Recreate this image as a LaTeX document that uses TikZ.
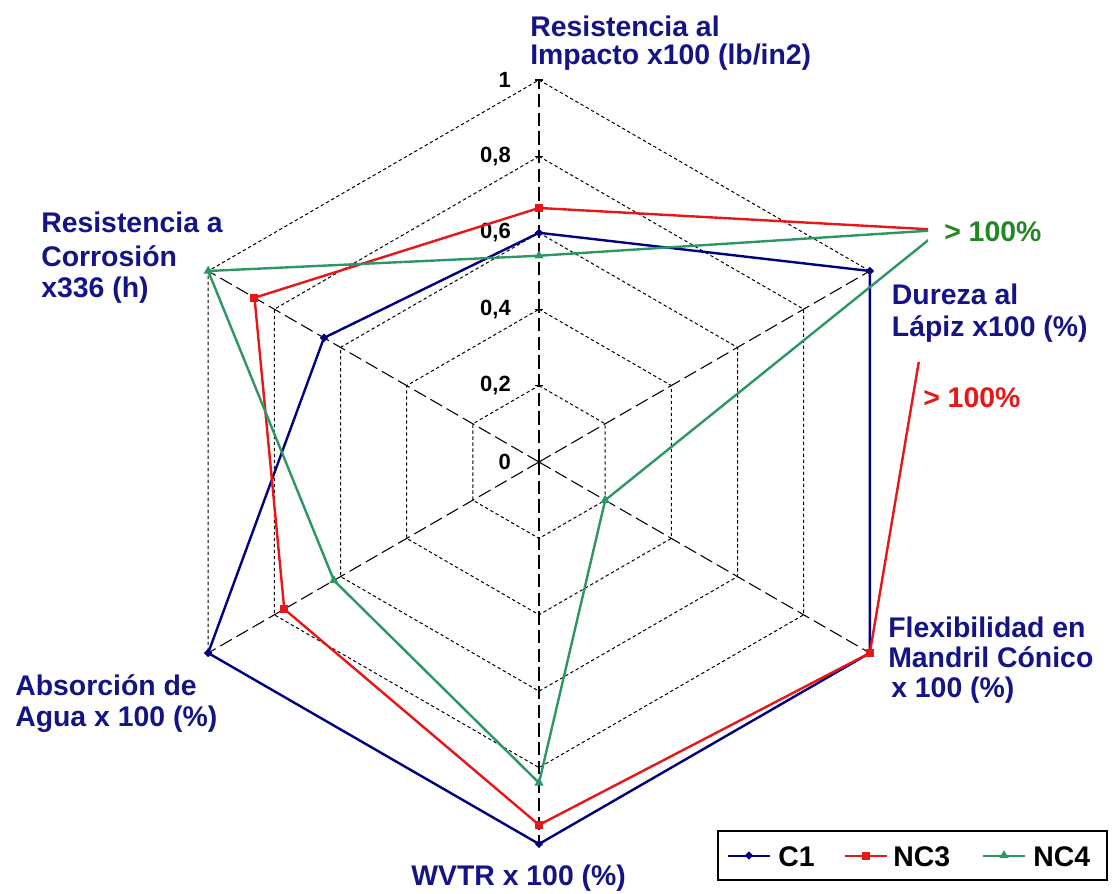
\documentclass[tikz,border=0pt]{standalone}
\usepackage{fontspec}
\setmainfont{Liberation Sans}
\usetikzlibrary{shapes.geometric}
\definecolor{navy}{RGB}{0,0,128}
\definecolor{labblue}{RGB}{20,20,135}
\definecolor{nred}{RGB}{232,22,22}
\definecolor{ngreen}{RGB}{46,150,100}
\definecolor{lgreen}{RGB}{35,135,35}
\begin{document}
\begin{tikzpicture}[x=0.75pt,y=0.75pt,
  grid/.style={black, line width=0.75pt, dash pattern=on 2.5pt off 2pt},
  axisline/.style={black, line width=0.8pt, dash pattern=on 10pt off 4pt},
  tickmark/.style={black, line width=0.8pt},
  lbl/.style={font=\fontsize{21.3}{24}\selectfont\bfseries, text=labblue, inner sep=0pt, anchor=base west},
  val/.style={font=\fontsize{16.5}{20}\selectfont\bfseries, text=black, inner sep=0pt, anchor=east},
  serC1/.style={navy, line width=1.8pt, line join=round},
  serNC3/.style={nred, line width=1.8pt, line join=round},
  serNC4/.style={ngreen, line width=1.8pt, line join=round},
  mkC1/.style={diamond, fill=navy, inner sep=0pt, minimum size=6.5pt},
  mkNC3/.style={rectangle, fill=nred, inner sep=0pt, minimum size=6pt},
  mkNC4/.style={regular polygon, regular polygon sides=3, fill=ngreen, inner sep=0pt, minimum size=8pt},
  legtext/.style={font=\fontsize{21.3}{24}\selectfont\bfseries, text=black, inner sep=0pt, anchor=base west},
  legbox/.style={draw=black, line width=1pt, fill=white, inner sep=0pt}
]
\useasboundingbox (0,0) rectangle (1119,893);
\coordinate (C) at (539,431);
% axis end points
\foreach \a [count=\i from 0] in {90,30,-30,-90,-150,150}
  \coordinate (A\i) at ([shift={(\a:382)}]C);
% grid hexagons
\foreach \v in {0.2,0.4,0.6,0.8,1.0}
  \draw[grid] ([shift={(90:{382*\v})}]C) -- ([shift={(30:{382*\v})}]C)
     -- ([shift={(-30:{382*\v})}]C) -- ([shift={(-90:{382*\v})}]C)
     -- ([shift={(-150:{382*\v})}]C) -- ([shift={(150:{382*\v})}]C) -- cycle;
% radial axes
\foreach \i in {0,...,5}
  \draw[axisline] (C) -- (A\i);
% ticks
\foreach \v in {0.2,0.4,0.6,0.8,1.0}
  \draw[tickmark] ([shift={(-4,{382*\v})}]C) -- ([shift={(4,{382*\v})}]C);
% value labels
\node[val] (v0) at (511,431) {0};
\node[val] (v1) at (511,{431+382*0.2}) {0,2};
\node[val] (v2) at (511,{431+382*0.4}) {0,4};
\node[val] (v3) at (511,{431+382*0.6}) {0,6};
\node[val] (v4) at (511,{431+382*0.8}) {0,8};
\node[val] (v5) at (511,{431+382}) {1};
% data points
\foreach \a/\v [count=\i from 0] in {90/0.6,30/1.0,-30/1.0,-90/1.0,-150/1.0,150/0.65}
  \coordinate (p\i) at ([shift={(\a:{382*\v})}]C);
\foreach \a/\v [count=\i from 0] in {90/0.665,30/1.215,-30/1.0,-90/0.95,-150/0.77,150/0.86}
  \coordinate (q\i) at ([shift={(\a:{382*\v})}]C);
\foreach \a/\v [count=\i from 0] in {90/0.54,30/1.215,-30/0.2,-90/0.84,-150/0.62,150/1.0}
  \coordinate (r\i) at ([shift={(\a:{382*\v})}]C);
\begin{scope}
  \clip (0,0) rectangle (928,893);
  \draw[serC1] (p0) -- (p1) -- (p2) -- (p3) -- (p4) -- (p5) -- cycle;
  \foreach \i in {0,...,5} \node[mkC1] at (p\i) {};
  \draw[serNC3] (q0) -- (q1) -- (q2) -- (q3) -- (q4) -- (q5) -- cycle;
  \foreach \i in {0,...,5} \node[mkNC3] at (q\i) {};
  \draw[serNC4] (r0) -- (r1) -- (r2) -- (r3) -- (r4) -- (r5) -- cycle;
  \foreach \i in {0,...,5} \node[mkNC4] at (r\i) {};
\end{scope}
% axis labels
\node[lbl] (imp1) at (530,856) {Resistencia al};
\node[lbl] (imp2) at (530,828) {Impacto x100 (lb/in2)};
\node[lbl, fill=white, inner sep=2pt, text depth=10pt] (dur1) at (889,588) {Dureza al};
\node[lbl, fill=white, inner sep=2pt, text depth=17pt] (dur2) at (889,556) {Lápiz x100 (\%)};
\node[lbl] (flx1) at (888,256) {Flexibilidad en};
\node[lbl] (flx2) at (888,226) {Mandril Cónico};
\node[lbl] (flx3) at (891,196) {x 100 (\%)};
\node[lbl] (wvtr) at (411,8) {WVTR x 100 (\%)};
\node[lbl] (abs1) at (15,198) {Absorción de};
\node[lbl] (abs2) at (15,167) {Agua x 100 (\%)};
\node[lbl] (cor1) at (41,660) {Resistencia a};
\node[lbl] (cor2) at (41,626) {Corrosión};
\node[lbl] (cor3) at (41,595) {x336 (h)};
\node[lbl, text=lgreen] (gt) at (944,651) {> 100\%};
\node[lbl, text=nred] (rt) at (923,485) {> 100\%};
% legend
\node[legbox, minimum width=291.75pt, minimum height=36.75pt] (leg) at (912.5,37.5) {};
\coordinate (l1a) at (728,37.5); \coordinate (l1b) at (770,37.5);
\coordinate (l2a) at (845,37.5); \coordinate (l2b) at (887,37.5);
\coordinate (l3a) at (983,37.5); \coordinate (l3b) at (1025,37.5);
\draw[serC1, line width=1.5pt] (l1a) -- (l1b);
\node[mkC1] (l1m) at (749,37.5) {};
\node[legtext] (l1t) at (778,27) {C1};
\draw[serNC3, line width=1.5pt] (l2a) -- (l2b);
\node[mkNC3] (l2m) at (866,37.5) {};
\node[legtext] (l2t) at (893,27) {NC3};
\draw[serNC4, line width=1.5pt] (l3a) -- (l3b);
\node[mkNC4] (l3m) at (1004,37.5) {};
\node[legtext] (l3t) at (1033,27) {NC4};
\end{tikzpicture}
\end{document}
